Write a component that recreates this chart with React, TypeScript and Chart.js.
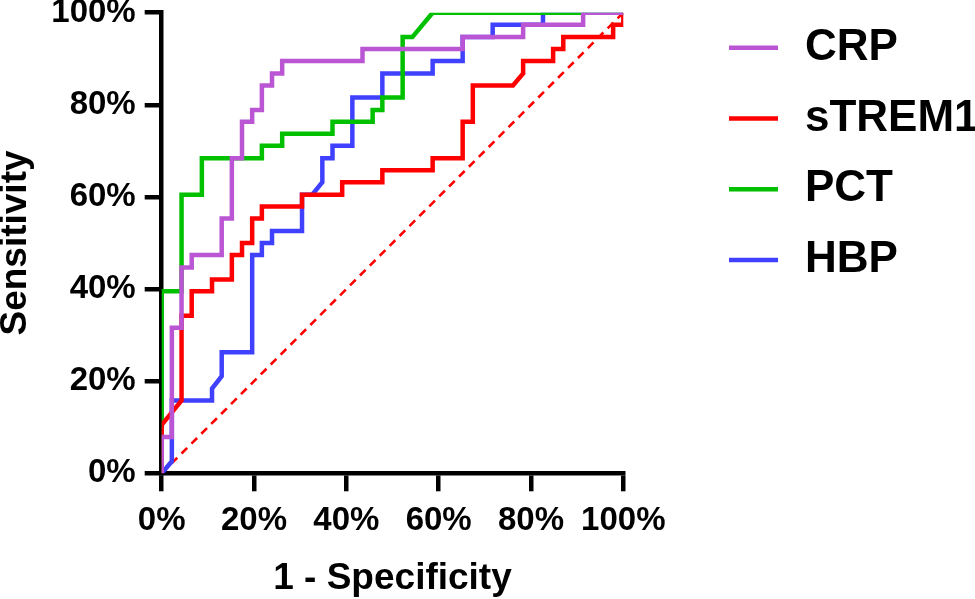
import { useEffect, useRef } from 'react';
import { Chart, registerables } from 'chart.js';

Chart.register(...registerables);

// ---- data ----
const seriesNames = ['CRP', 'sTREM1', 'PCT', 'HBP'];
const seriesColors = ['#BA55D3', '#FF0000', '#00C000', '#4040FF'];

// 1 - Specificity (%) and Sensitivity (%) vertices of each ROC curve
const crpX = [0, 0, 2.2, 2.2, 4.3, 4.3, 6.5, 6.5, 13.0, 13.0, 15.2, 15.2, 17.4, 17.4, 19.6, 19.6, 21.7, 21.7, 23.9, 23.9, 26.1, 26.1, 43.5, 43.5, 65.2, 65.2, 78.3, 78.3, 91.3, 91.3, 100];
const crpY = [0, 7.9, 7.9, 31.6, 31.6, 44.7, 44.7, 47.4, 47.4, 55.3, 55.3, 68.4, 68.4, 76.3, 76.3, 78.9, 78.9, 84.2, 84.2, 86.8, 86.8, 89.5, 89.5, 92.1, 92.1, 94.7, 94.7, 97.4, 97.4, 100, 100];

const stremX = [0, 0, 4.3, 4.3, 6.5, 6.5, 10.9, 10.9, 15.2, 15.2, 17.4, 17.4, 19.6, 19.6, 21.7, 21.7, 30.4, 30.4, 39.1, 39.1, 47.8, 47.8, 58.7, 58.7, 65.2, 65.2, 67.4, 67.4, 76.1, 78.3, 78.3, 84.8, 84.8, 87.0, 87.0, 97.8, 97.8, 100, 100];
const stremY = [0, 10.5, 15.8, 34.2, 34.2, 39.5, 39.5, 42.1, 42.1, 47.4, 47.4, 50.0, 50.0, 55.3, 55.3, 57.9, 57.9, 60.5, 60.5, 63.2, 63.2, 65.8, 65.8, 68.4, 68.4, 76.3, 76.3, 84.2, 84.2, 86.8, 89.5, 89.5, 92.1, 92.1, 94.7, 94.7, 97.4, 97.4, 100];

const pctX = [0, 0, 4.3, 4.3, 8.7, 8.7, 21.7, 21.7, 26.1, 26.1, 37.0, 37.0, 45.7, 45.7, 47.8, 47.8, 52.2, 52.2, 54.3, 58.7, 100];
const pctY = [0, 39.5, 39.5, 60.5, 60.5, 68.4, 68.4, 71.1, 71.1, 73.7, 73.7, 76.3, 76.3, 78.9, 78.9, 81.6, 81.6, 94.7, 94.7, 100, 100];

const hbpX = [0, 2.2, 2.2, 10.9, 10.9, 13.0, 13.0, 19.6, 19.6, 21.7, 21.7, 23.9, 23.9, 30.4, 30.4, 32.6, 34.8, 34.8, 37.0, 37.0, 41.3, 41.3, 47.8, 47.8, 58.7, 58.7, 65.2, 65.2, 71.7, 71.7, 82.6, 82.6, 100];
const hbpY = [0, 2.6, 15.8, 15.8, 18.4, 21.1, 26.3, 26.3, 47.4, 47.4, 50.0, 50.0, 52.6, 52.6, 60.5, 60.5, 63.2, 68.4, 68.4, 71.1, 71.1, 81.6, 81.6, 86.8, 86.8, 89.5, 89.5, 94.7, 94.7, 97.4, 97.4, 100, 100];

const refX = [0, 100];
const refY = [0, 100];

const axisTicks = [0, 20, 40, 60, 80, 100];
const tickLabels = ['0%', '20%', '40%', '60%', '80%', '100%'];
const xTitle = '1 - Specificity';
const yTitle = 'Sensitivity';

const seriesX = [crpX, stremX, pctX, hbpX];
const seriesY = [crpY, stremY, pctY, hbpY];

const FONT = '"Liberation Sans", Arial, Helvetica, sans-serif';

const toPoints = (xs: number[], ys: number[]) => xs.map((x, i) => ({ x, y: ys[i] }));

const sideLegend = {
  id: 'sideLegend',
  afterDraw(chart: any) {
    const ctx = chart.ctx as CanvasRenderingContext2D;
    ctx.save();
    seriesNames.forEach((name, i) => {
      const y = 47.7 + i * 70.8;
      ctx.strokeStyle = chart.data.datasets[i].borderColor;
      ctx.lineWidth = 4.5;
      ctx.lineCap = 'butt';
      ctx.beginPath();
      ctx.moveTo(729, y);
      ctx.lineTo(778, y);
      ctx.stroke();
      ctx.fillStyle = '#000';
      ctx.font = `bold 44px ${FONT}`;
      ctx.textBaseline = 'middle';
      ctx.textAlign = 'left';
      ctx.fillText(name, 805, y);
    });
    ctx.restore();
  },
};

export default function App() {
  const canvasRef = useRef<HTMLCanvasElement | null>(null);

  useEffect(() => {
    if (!canvasRef.current) return;
    const datasets: any[] = seriesNames.map((name, i) => ({
      label: name,
      data: toPoints(seriesX[i], seriesY[i]),
      borderColor: seriesColors[i],
      backgroundColor: seriesColors[i],
      borderWidth: 4.5,
      pointRadius: 0,
      tension: 0,
      fill: false,
      borderJoinStyle: 'miter',
      borderCapStyle: 'butt',
    }));
    datasets.push({
      label: 'reference',
      data: toPoints(refX, refY),
      borderColor: '#FF0000',
      borderWidth: 2.6,
      borderDash: [8, 6],
      pointRadius: 0,
      tension: 0,
      fill: false,
    });

    const tickFont = { family: FONT, size: 33, weight: 'bold' as const, lineHeight: 0.7 };
    const titleFont = { family: FONT, size: 37, weight: 'bold' as const, lineHeight: 0.85 };

    const chart = new Chart(canvasRef.current, {
      type: 'line',
      data: { datasets },
      options: {
        responsive: false,
        animation: false,
        layout: { padding: { top: 12.7, right: 975 - 623.3, bottom: 0, left: 0 } },
        plugins: {
          legend: { display: false },
          tooltip: { enabled: false },
        },
        scales: {
          x: {
            type: 'linear',
            min: 0,
            max: 100,
            afterFit: (s: any) => {
              s.height = 599 - 473.3;
              s.paddingLeft = 0;
              s.paddingRight = 0;
            },
            afterBuildTicks: (s: any) => {
              s.ticks = axisTicks.map((v) => ({ value: v }));
            },
            ticks: {
              color: '#000',
              font: tickFont,
              padding: 18,
              maxRotation: 0,
              callback: (v: any) => tickLabels[axisTicks.indexOf(Number(v))],
            },
            grid: {
              display: true,
              drawOnChartArea: false,
              drawTicks: true,
              tickLength: 18,
              lineWidth: 4.5,
              color: '#000',
            },
            border: { display: true, width: 4.5, color: '#000' },
            title: {
              display: true,
              text: xTitle,
              color: '#000',
              font: titleFont,
              padding: { top: 0, bottom: 4 },
            },
          },
          y: {
            type: 'linear',
            min: 0,
            max: 100,
            afterFit: (s: any) => {
              s.width = 161.7;
              s.paddingTop = 0;
              s.paddingBottom = 0;
            },
            afterBuildTicks: (s: any) => {
              s.ticks = axisTicks.map((v) => ({ value: v }));
            },
            ticks: {
              color: '#000',
              font: tickFont,
              padding: 9,
              callback: (v: any) => tickLabels[axisTicks.indexOf(Number(v))],
            },
            grid: {
              display: true,
              drawOnChartArea: false,
              drawTicks: true,
              tickLength: 17,
              lineWidth: 4.5,
              color: '#000',
            },
            border: { display: true, width: 4.5, color: '#000' },
            title: {
              display: true,
              text: yTitle,
              color: '#000',
              font: titleFont,
              padding: { top: 0, bottom: 0 },
            },
          },
        },
      },
      plugins: [sideLegend],
    });
    return () => chart.destroy();
  }, []);

  return (
    <div style={{ position: 'absolute', left: 0, top: 0, width: 975, height: 599, background: '#fff' }}>
      <canvas ref={canvasRef} width={975} height={599} style={{ display: 'block' }} />
    </div>
  );
}
